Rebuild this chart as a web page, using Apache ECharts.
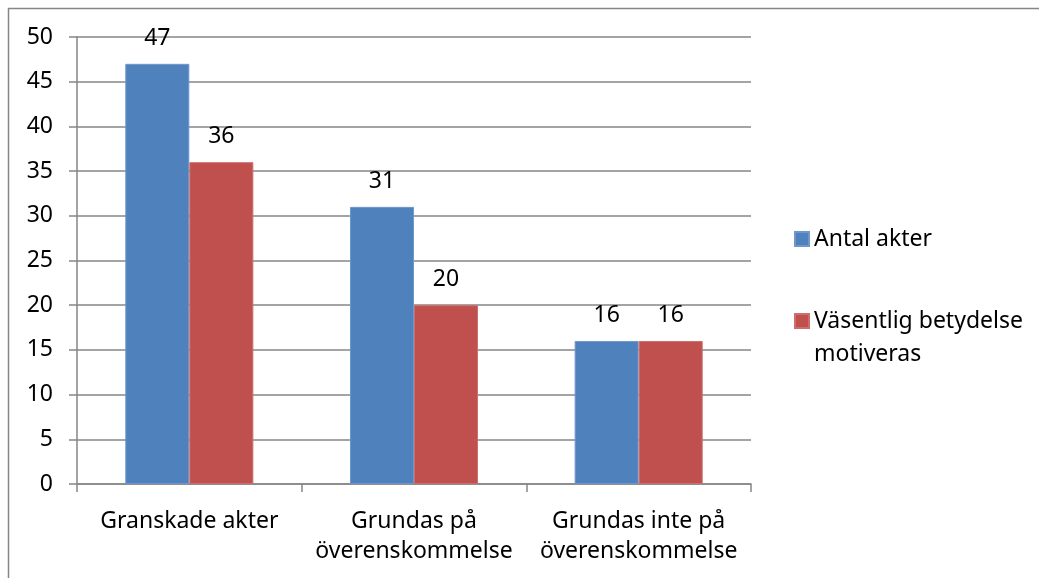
<!DOCTYPE html>
<html>
<head>
<meta charset="utf-8">
<style>
  html, body { margin: 0; padding: 0; background: #fff; }
  #chart { width: 1039px; height: 578px; }
</style>
<script src="https://cdn.jsdelivr.net/npm/echarts@6/dist/echarts.min.js"></script>
</head>
<body>
<div id="chart"></div>
<script>
// Categories and series values
const categories = ['Granskade akter', 'Grundas på\növerenskommelse', 'Grundas inte på\növerenskommelse'];
const antalAkter = [47, 31, 16];
const vasentligBetydelse = [36, 20, 16];
const seriesNames = ['Antal akter', 'Väsentlig betydelse motiveras'];

const FONT = '"Noto Sans", sans-serif';
const FS = 23;
const GRAY = '#868686';

const chart = echarts.init(document.getElementById('chart'), null, { renderer: 'canvas' });

const labelStyle = {
  show: true,
  position: 'top',
  distance: 14,
  color: '#000',
  fontFamily: FONT,
  fontSize: FS
};

chart.setOption({
  animation: false,
  backgroundColor: '#fff',
  textStyle: { fontFamily: FONT },
  graphic: [{
    type: 'rect',
    silent: true,
    shape: { x: 8.5, y: 8.5, width: 1200, height: 800 },
    style: { fill: 'none', stroke: GRAY, lineWidth: 1.5 }
  }],
  grid: { left: 77, top: 37, right: 288, bottom: 94, containLabel: false },
  legend: [{
    data: [seriesNames[0]],
    orient: 'vertical',
    left: 794,
    top: 225,
    padding: 0,
    itemWidth: 14,
    itemHeight: 14,
    icon: 'rect',
    selectedMode: false,
    textStyle: { color: '#000', fontFamily: FONT, fontSize: FS, lineHeight: 28 }
  }, {
    // blank first line keeps the swatch level with the first text line
    data: [seriesNames[1]],
    orient: 'vertical',
    left: 794,
    top: 271.5,
    padding: 0,
    itemWidth: 14,
    itemHeight: 14,
    icon: 'rect',
    selectedMode: false,
    formatter: () => ' \nVäsentlig betydelse\nmotiveras',
    textStyle: { color: '#000', fontFamily: FONT, fontSize: FS, lineHeight: 33 }
  }],
  xAxis: {
    type: 'category',
    data: categories,
    axisLine: { show: true, lineStyle: { color: GRAY, width: 1.5 } },
    axisTick: { show: true, length: 8, inside: false, lineStyle: { color: GRAY, width: 1.5 } },
    axisLabel: { color: '#000', fontFamily: FONT, fontSize: FS, lineHeight: 30, margin: 22, interval: 0 }
  },
  yAxis: {
    type: 'value',
    min: 0,
    max: 50,
    interval: 5,
    axisLine: { show: true, lineStyle: { color: GRAY, width: 1.5 } },
    axisTick: { show: true, length: 8, inside: false, lineStyle: { color: GRAY, width: 1.5 } },
    axisLabel: { color: '#000', fontFamily: FONT, fontSize: FS, margin: 24 },
    splitLine: { show: true, lineStyle: { color: GRAY, width: 1.5 } }
  },
  series: [{
    name: seriesNames[0],
    type: 'bar',
    data: antalAkter,
    barGap: '0%',
    barCategoryGap: '43%',
    itemStyle: { color: '#4F81BD', borderColor: '#6F97CC', borderWidth: 1 },
    label: labelStyle
  }, {
    name: seriesNames[1],
    type: 'bar',
    data: vasentligBetydelse,
    barGap: '0%',
    barCategoryGap: '43%',
    itemStyle: { color: '#C0504D', borderColor: '#CC6F6C', borderWidth: 1 },
    label: labelStyle
  }]
});
</script>
</body>
</html>
